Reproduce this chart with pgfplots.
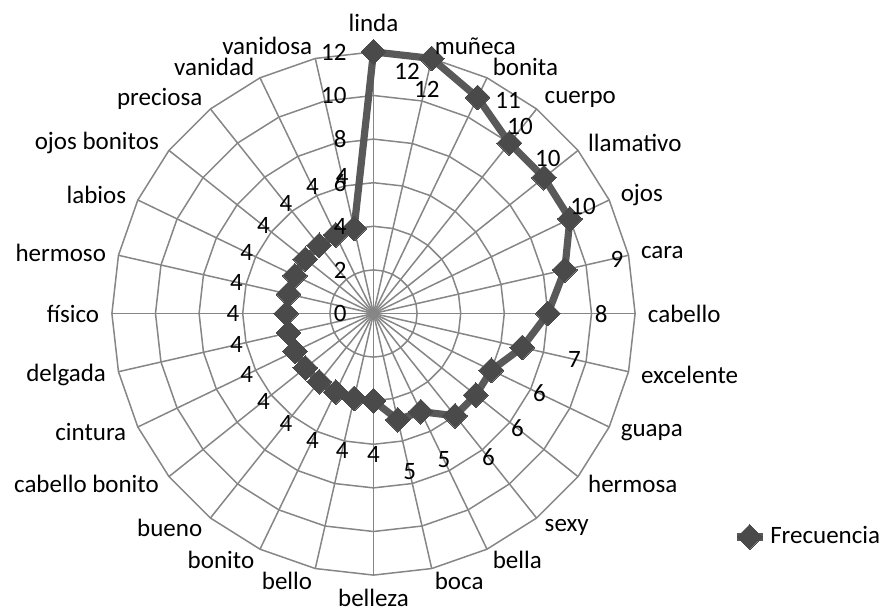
\documentclass[border=0pt]{standalone}
\usepackage{fontspec}
\setmainfont{Carlito}
\usepackage{pgfplots}
\pgfplotsset{compat=1.18}
\usepgfplotslibrary{polar}

\definecolor{gridgray}{RGB}{134,134,134}
\definecolor{serie}{RGB}{89,89,89}
\definecolor{marca}{RGB}{74,74,74}

\begin{document}
\fontsize{12.5}{15}\selectfont
\begin{tikzpicture}[x=10.9pt,y=10.9pt]
\useasboundingbox (-17.133,-13.647) rectangle (23.555,14.381);

% polygon grid, 28 spokes
\foreach \r in {2,4,...,12}{
  \draw[gridgray, line width=0.75pt] (90:\r) \foreach \k in {1,...,27}{ -- ({90-\k*360/28}:\r)} -- cycle;
}
\foreach \k in {0,...,27}
  \draw[gridgray, line width=0.75pt] (0,0) -- ({90-\k*360/28}:12);

\begin{axis}[at={(0,0)}, anchor=origin,
  x=10.9pt, y=10.9pt,
  xmin=-17, xmax=23, ymin=-13, ymax=14,
  hide axis, clip=false,
  legend image code/.code={
    \draw[#1, mark repeat=2, mark phase=2] plot coordinates {(0pt,0pt) (6.5pt,0pt) (13pt,0pt)};},
  legend style={at={(axis cs:16.2,-10.25)}, anchor=west, draw=none, fill=none,
    font=\fontsize{12.5}{15}\selectfont},
  ]
% angle (deg, counter-clockwise from east), frecuencia
\addplot[serie, line width=3.6pt, line join=round, data cs=polar,
  mark=square*, mark size=4.4pt,
  mark options={rotate=45, fill=marca, draw=marca, line width=0pt}]
  coordinates {
  (90,12) (77.1429,12) (64.2857,11) (51.4286,10) (38.5714,10) (25.7143,10)
  (12.8571,9) (0,8) (-12.8571,7) (-25.7143,6) (-38.5714,6) (-51.4286,6)
  (-64.2857,5) (-77.1429,5) (-90,4) (-102.8571,4) (-115.7143,4) (-128.5714,4)
  (-141.4286,4) (-154.2857,4) (-167.1429,4) (-180,4) (-192.8571,4) (-205.7143,4)
  (-218.5714,4) (-231.4286,4) (-244.2857,4) (-257.1429,4) (-270,12)
  };
\addlegendentry{Frecuencia}
\end{axis}

% category labels
\node[anchor=base, inner sep=0pt] at (0,12.95) {linda};
\node[anchor=north, inner sep=0pt] at (0,-12.62) {belleza};
\foreach \k/\n in {1/muñeca,2/bonita,3/cuerpo,4/llamativo,5/ojos,6/cara,7/cabello,
  8/excelente,9/guapa,10/hermosa,11/sexy,12/bella,13/boca}
  \node[anchor=west, inner sep=0pt] at ({90-\k*360/28}:12.57) {\n};
\foreach \k/\n in {15/bello,16/bonito,17/bueno,18/cabello bonito,19/cintura,20/delgada,
  21/físico,22/hermoso,23/labios,24/ojos bonitos,25/preciosa,26/vanidad,27/vanidosa}
  \node[anchor=east, inner sep=0pt] at ({90-\k*360/28}:12.57) {\n};

% radial tick labels
\foreach \v in {0,2,...,12}
  \node[anchor=east, inner sep=0pt] at (-1.22,\v) {\v};

% data labels
\node[inner sep=0pt] at (1.54,11.12) {12};
\node[inner sep=0pt] at (2.45,10.30) {12};
\node[inner sep=0pt] at (6.17,9.75) {11};
\node[inner sep=0pt] at (6.72,8.56) {10};
\node[inner sep=0pt] at (8.00,7.09) {10};
\node[inner sep=0pt] at (9.61,4.89) {10};
\node[inner sep=0pt] at (11.17,2.50) {9};
\node[inner sep=0pt] at (10.44,-0.02) {8};
\foreach \k/\v in {8/7,9/6,10/6,11/6,12/5,13/5,14/4,15/4,16/4,17/4,18/4,19/4,20/4,
  21/4,22/4,23/4,24/4,25/4,26/4,27/4}{
  \pgfmathsetmacro\rr{\v+2.45}
  \node[inner sep=0pt] at ({90-\k*360/28}:\rr) {\v};
}
\end{tikzpicture}
\end{document}
